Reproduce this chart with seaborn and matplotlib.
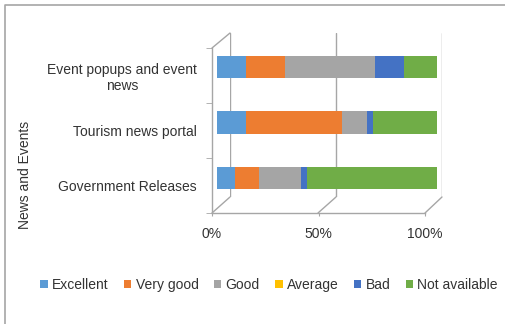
import seaborn as sns
import pandas as pd
from matplotlib import pyplot as plt
from matplotlib.patches import Patch
from matplotlib.lines import Line2D

# data (percent of respondents)
categories = ["Event popups and event\nnews", "Tourism news portal", "Government Releases"]
levels = ["Excellent", "Very good", "Good", "Average", "Bad", "Not available"]
excellent = [13, 13, 8]
very_good = [18, 44, 11]
good = [41, 11, 19]
average = [0, 0, 0]
bad = [13, 3, 3]
not_available = [15, 29, 59]
colors = ["#5B9BD5", "#ED7D31", "#A5A5A5", "#FFC000", "#4472C4", "#70AD47"]

sns.set_style("white")
plt.rcParams['font.family'] = ['Liberation Sans', 'DejaVu Sans']
txt = "#333333"
gridc = "#A6A6A6"
fs = 10

df = pd.DataFrame({"cat": categories, "Excellent": excellent, "Very good": very_good,
                   "Good": good, "Average": average, "Bad": bad, "Not available": not_available})
cum = df[levels].cumsum(axis=1)

W, H = 505, 324
fig = plt.figure(figsize=(W / 100, H / 100), dpi=100)

def box(x0, y0, x1, y1):
    # pixel box -> figure fraction rect
    return [x0 / W, 1 - y1 / H, (x1 - x0) / W, (y1 - y0) / H]

# back wall with gridlines
back = fig.add_axes(box(230, 33, 442, 197))
back.set_xlim(0, 100)
back.set_xticks([0, 50, 100])
back.set_yticks([])
back.grid(axis='x', color=gridc, lw=1)
back.tick_params(length=0, labelbottom=False)
for s in back.spines.values():
    s.set_visible(False)
back.set_facecolor("none")

# bars
ax = fig.add_axes(box(217, 39, 437, 206))
for lev, col in reversed(list(zip(levels, colors))):
    sns.barplot(x=cum[lev], y=df["cat"], color=col, width=0.4, orient='h', ax=ax,
                saturation=1, edgecolor="none")
ax.set_xlim(0, 100)
ax.set_ylim(2.5, -0.5)
ax.axis('off')
ax.set_facecolor("none")

# front axes (floor and left wall)
front = fig.add_axes(box(212, 48, 425, 213))
front.set_facecolor("none")
front.set_xlim(0, 100)
front.set_ylim(2.5, -0.5)
front.set_xticks([0, 50, 100])
front.set_xticklabels(["0%", "50%", "100%"])
front.set_yticks([0, 1, 2])
front.set_yticklabels(categories, multialignment='center')
front.set_yticks([-0.5, 0.5, 1.5, 2.5], minor=True)
front.tick_params(axis='y', which='major', length=0, pad=11, labelsize=fs, labelcolor=txt)
front.tick_params(axis='y', which='minor', length=4, color=gridc, direction='out', left=True)
front.tick_params(axis='x', length=2, color=gridc, pad=8, labelsize=fs, labelcolor=txt, bottom=True)
for s in ["top", "right"]:
    front.spines[s].set_visible(False)
for s in ["left", "bottom"]:
    front.spines[s].set_color(gridc)
    front.spines[s].set_linewidth(1)

# depth lines joining front and back
for (x0, y0, x1, y1) in [(212, 48, 230, 33), (212, 213, 230, 197), (318, 213, 336, 197),
                         (425, 213, 442, 197)]:
    fig.add_artist(Line2D([x0 / W, x1 / W], [1 - y0 / H, 1 - y1 / H], color=gridc, lw=1))

fig.text(25 / W, 1 - 175 / H, "News and Events", rotation=90, ha='center', va='center',
         fontsize=fs, color=txt)

handles = [Patch(facecolor=c, edgecolor='none') for c in colors]
fig.legend(handles, levels, loc='center', bbox_to_anchor=(269 / W, 1 - 285 / H), ncol=6,
           frameon=False, handlelength=0.55, handleheight=0.55, handletextpad=0.3,
           columnspacing=1.1, fontsize=fs, labelcolor=txt)

# chart border (left and top visible)
fig.add_artist(Line2D([5 / W, 5 / W, 1.0], [0.0, 1 - 5 / H, 1 - 5 / H], color="#A6A6A6", lw=1.2))

fig.savefig("out.png", dpi=100)
